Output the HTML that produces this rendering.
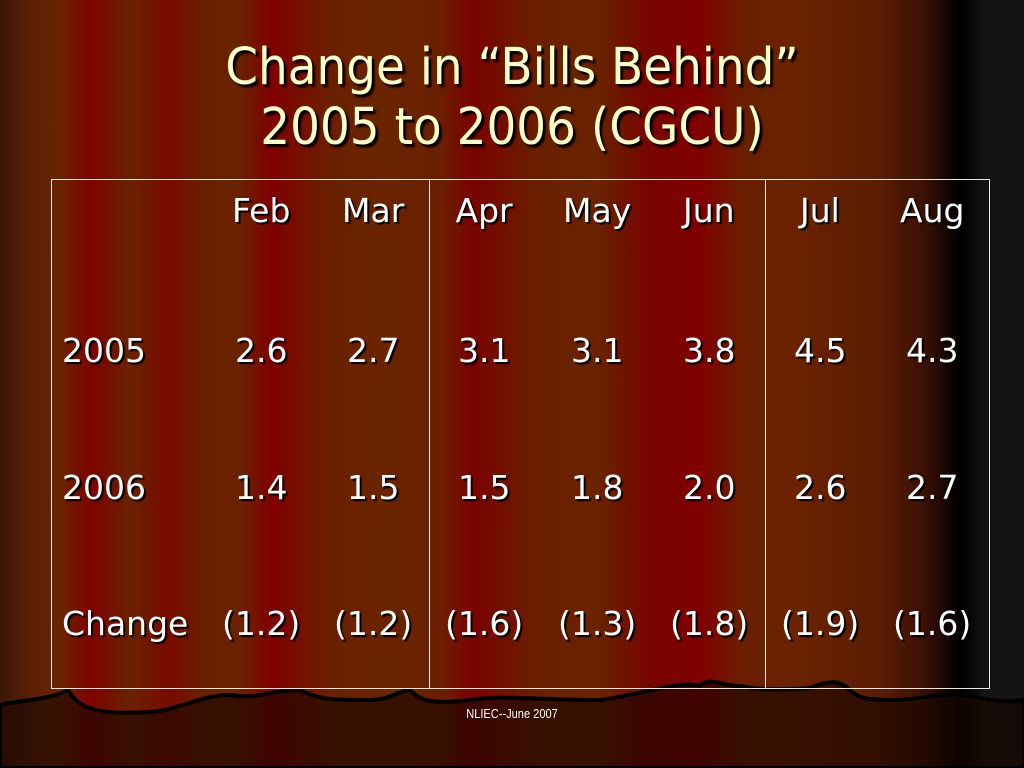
<!DOCTYPE html>
<html><head><meta charset="utf-8">
<style>
html,body{margin:0;padding:0}
body{width:1024px;height:768px;overflow:hidden;position:relative;font-family:"DejaVu Sans","Liberation Sans",sans-serif;
background:linear-gradient(to right,#3a1608 0px,#5a2008 30px,#6a2400 60px,#7e0200 92px,#6a2200 130px,#780a00 170px,#6a2000 205px,#6a2200 240px,#800000 272px,#6a2000 330px,#6a2400 380px,#6a2000 440px,#7a0200 472px,#6a2000 540px,#6a2200 600px,#760600 645px,#800000 700px,#6a2000 745px,#6a2200 800px,#5a1c04 880px,#3a1004 925px,#100402 950px,#000 962px,#141414 985px,#141414 1024px);}
.t{position:absolute;left:0;width:1024px;text-align:center;color:#ffffcc;font-size:51px;text-shadow:3px 3px 2px #000;transform:scaleX(0.92);transform-origin:512px 0}
#tbl{position:absolute;left:51px;top:179px;width:937px;height:508px;border:1px solid #e8e8e8}
.vl{position:absolute;top:179px;width:1px;height:510px;background:#e8e8e8}
.c{position:absolute;color:#fff;font-size:33px;text-shadow:2px 2px 1px #000;white-space:nowrap;line-height:1}
#foot{position:absolute;left:0;width:1024px;top:706px;text-align:center;color:#fff;font-size:13px;font-family:"Liberation Sans",sans-serif;transform:scaleX(0.85);transform-origin:512px 0}
</style></head><body>
<svg style="position:absolute;left:0;top:0" width="1024" height="768">
<path d="M0,705 C20,700 50,700 68,690 C80,710 100,715 150,712 C180,710 200,695 230,695 C260,700 270,690 300,690 C320,700 330,700 370,700 C390,700 400,690 410,690 C420,700 430,705 470,700 C500,695 540,700 600,700 C640,695 680,680 700,686 C710,676 720,686 740,686 C760,690 780,690 810,688 C830,680 840,680 850,690 C860,700 870,700 900,700 C930,698 950,690 980,698 C1000,702 1010,702 1024,700 L1024,768 L0,768 Z" fill="rgba(25,6,0,0.62)" stroke="#000" stroke-width="4"/>
</svg>
<div class="t" style="top:38px">Change in “Bills Behind”</div>
<div class="t" style="top:98px">2005 to 2006 (CGCU)</div>
<div id="tbl"></div>
<div class="vl" style="left:429px"></div>
<div class="vl" style="left:765px"></div>
<div id="foot">NLIEC--June 2007</div>
<script>
const months=["Feb","Mar","Apr","May","Jun","Jul","Aug"];
const rowLabels=["2005","2006","Change"];
const v2005=["2.6","2.7","3.1","3.1","3.8","4.5","4.3"];
const v2006=["1.4","1.5","1.5","1.8","2.0","2.6","2.7"];
const vChange=["(1.2)","(1.2)","(1.6)","(1.3)","(1.8)","(1.9)","(1.6)"];
const colX=[261,373,484,597,709,820,932];
const rowY=[210,350,487,623];
function cell(txt,cx,cy,left,name){
  const d=document.createElement('div');
  d.className='c';
  
  
  d.textContent=txt;
  document.body.appendChild(d);
  const w=d.offsetWidth,h=d.offsetHeight;
  d.style.left=(left?cx:cx-w/2)+'px';
  d.style.top=(cy-h/2)+'px';
}
months.forEach((m,i)=>cell(m,colX[i],rowY[0],false,'header-'+m.toLowerCase()));
const rows=[v2005,v2006,vChange];
rowLabels.forEach((l,r)=>{
  cell(l,62,rowY[r+1],true,'row-label-'+l.toLowerCase());
  rows[r].forEach((v,i)=>cell(v,colX[i],rowY[r+1],false,'cell-'+l.toLowerCase()+'-'+months[i].toLowerCase()));
});
</script>
</body></html>
